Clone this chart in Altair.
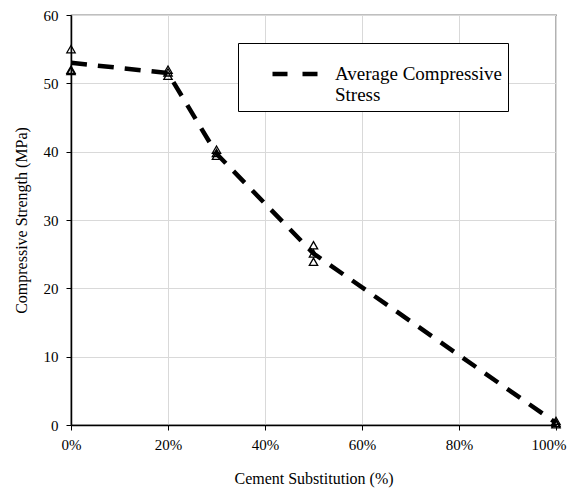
import altair as alt
import pandas as pd

# Individual specimen results
pts_x = [0, 0, 0, 20, 20, 20, 30, 30, 30, 50, 50, 50, 100, 100, 100]
pts_y = [55.0, 52.0, 51.8, 52.0, 51.6, 51.1, 40.3, 39.8, 39.4, 26.3, 25.1, 23.9, 0.6, 0.3, 0.1]

# Average compressive stress
avg_x = [0, 20, 30, 50, 100]
avg_y = [53.0, 51.5, 39.7, 25.1, 0.3]
series_name = "Average Compressive Stress"

pts = pd.DataFrame({"x": [v / 100 for v in pts_x], "y": pts_y})
avg = pd.DataFrame({"x": [v / 100 for v in avg_x], "y": avg_y, "s": series_name})

FONT = "Liberation Serif"
NB = "\u2002" * 4

xscale = alt.Scale(domain=[0, 1], nice=False)
yscale = alt.Scale(domain=[0, 60], nice=False)

common = dict(labelFont=FONT, titleFont=FONT, labelFontSize=15, titleFontSize=16,
              labelColor="black", titleColor="black", titleFontWeight="normal",
              domainColor="black", tickColor="black", gridColor="#d9d9d9", domainWidth=1.5,
              grid=True, tickSize=5, labelOverlap=False)

xaxis = alt.Axis(title="Cement Substitution (%)", format=".0%", values=[0, 0.2, 0.4, 0.6, 0.8, 1.0],
                 labelFlush=True, labelFlushOffset=10,
                 labelPadding=7, titlePadding=18, **common)
yaxis = alt.Axis(title="Compressive Strength (MPa)", values=[0, 10, 20, 30, 40, 50, 60],
                 labelFlush=False, labelPadding=8, titlePadding=14, **common)

line = alt.Chart(avg).mark_line(strokeWidth=4.5, strokeDash=[16, 11]).encode(
    x=alt.X("x:Q", scale=xscale, axis=xaxis),
    y=alt.Y("y:Q", scale=yscale, axis=yaxis),
    color=alt.Color("s:N", scale=alt.Scale(range=["black"]),
                    legend=alt.Legend(title=None, orient="none", legendX=167, legendY=28,
                                      symbolType="stroke", symbolStrokeWidth=4.5,
                                      symbolSize=2025, symbolDash=[15, 15], symbolOffset=26,
                                      labelExpr="['Average Compressive" + NB + "', 'Stress']",
                                      labelFont=FONT, labelFontSize=19, labelColor="black",
                                      labelLimit=400, labelOffset=15,
                                      strokeColor="black", fillColor="white",
                                      padding=6)),
)

points = alt.Chart(pts).mark_point(shape="triangle-up", filled=False, color="black", opacity=1,
                                   strokeWidth=1.3, size=70).encode(
    x=alt.X("x:Q", scale=xscale),
    y=alt.Y("y:Q", scale=yscale),
)

chart = alt.layer(line, points).properties(
    width=485, height=410,
    autosize=alt.AutoSizeParams(type="none"),
    padding={"left": 63, "top": 7, "right": 11, "bottom": 64},
).configure(background="white").configure_view(stroke="black", strokeWidth=1.2)

chart.save("out.html", embed_options={"renderer": "svg", "actions": False})
